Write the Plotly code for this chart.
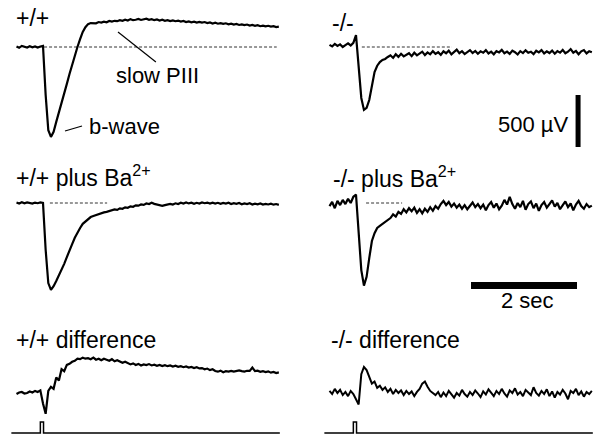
import plotly.graph_objects as go

# ---------------- data (µV, sampled every DT seconds from T0) ----------------
T0 = -0.5
DT = 0.05

wt_control = [5, -8, 10, 0, -5, 8, -3, 6, -6, 4,
              10, -460, -800, -865, -815, -720, -635, -540, -440, -355,
              -260, -165, -85, 0, 75, 145, 190, 220, 230,
              232, 228, 240, 235, 244, 238, 250, 245, 252, 248, 258,
              252, 262, 255, 268, 258, 262, 270, 260, 266, 272,
              262, 268, 258, 265, 255, 262, 252, 258, 250, 256,
              248, 254, 244, 250, 240, 246, 238, 243, 235, 242,
              234, 240, 230, 236, 226, 233, 224, 230, 222, 228,
              218, 225, 216, 222, 212, 218, 210, 216, 206, 212,
              204, 210, 200, 206, 198, 204, 196, 200, 192, 196]

ko_control = [20, 5, 30, 10, 25, 0, 18, 35, 15, 40,
              115, -220, -490, -605, -585, -510, -365, -240, -180, -145, -125, -115, -96,
              -80, -105, -70, -95, -65, -90, -75, -60, -88, -55, -80, -62, -45, -78, -52, -70,
              -40, -66, -50, -75, -42, -60,
              -35, -70, -48, -25, -60, -40, -68, -45, -30, -58, -38, -65, -42, -55, -30,
              -62, -45, -70, -40, -52, -28, -60, -44, -66, -35, -50, -72, -40, -58, -32,
              -55, -45, -68, -36, -52, -30, -62, -42, -58, -35, -65, -40, -55, -28, -60,
              -45, -20, -55, -38, -70, -42, -30, -62, -40, -50]

wt_ba = [5, -5, 8, -3, 6, 0, -6, 4, -2, 6,
         0, -450, -770, -835, -800, -750, -700, -645, -585, -520,
         -450, -395, -335, -280, -240, -200, -175, -155, -135, -125,
         -115, -105, -95, -90, -85, -78,
         -72, -62, -66, -52, -56, -42, -46, -32, -36, -22,
         -26, -14, -18, -5, -10, 2, -8, -15, -25, -28,
         -20, -14, -8, -15, -3, -10, 2, -6, 5, -4,
         3, -8, 2, -5, 6, -2, 4, -6, 3, -5,
         2, -8, 0, -6, 3, -10, -2, -8, 0, -12,
         -4, -10, -2, -14, -6, -12, -4, -15, -8, -14,
         -6, -16, -10, -18]

ko_ba = [-30, 10, -50, 20, -20, 30, -10, 40, 0, 60,
         80, -280, -645, -795, -710, -530, -365, -290, -240, -220, -200, -180, -165,
         -145, -110, -130, -85, -105, -60, -90, -50, -80, -45,
         -95, -60, -100, -55, -85, -40, -75, -30, -55, -10,
         20, -20, 10, -35, -5, -45, -15, -55, -20, -60,
         -25, 5, -40, -10, -50, -15, -70, -20, 10, -45,
         -5, -60, -25, 30, -15, 60, -10, -55, 0, -40,
         20, -65, -10, 15, -50, -5, -75, -20, 10, -45,
         -10, 25, -35, 0, -60, -20, 15, -40, -5, -70,
         -15, 20, -30, -55, -10, -40, -25]

wt_diff = [-10, 5, 10, -5, 0, 15, 5, 20, 10, 25,
           -100, -200,
           20, 60, 40, 150, 120, 230, 210, 270, 280, 300, 310, 330, 325, 340, 330, 335,
           325, 340, 320, 330, 315, 330, 320, 310, 325, 305, 315, 300,
           290, 300, 285, 275, 285, 270, 280, 265, 275, 268,
           278, 265, 272, 262, 270, 260, 268, 258, 265, 255,
           262, 252, 258, 248, 255, 245, 250, 240, 248, 236,
           240, 228, 235, 220, 228, 212, 205, 215, 200, 210,
           205, 212, 205, 212, 218, 210, 206, 214, 212, 245,
           210, 214, 204, 210, 202, 208, 196, 202, 192, 198]

ko_diff = [20, -10, 40, 0, 30, -20, 10, -30, 20, -10,
           -60, -110, 180, 250, 220, 160, 90, 110, 50, 70,
           30, 55, 10, 40, -10, 30, 0, 25, -20, 20,
           -10, 15, -30, 10, 40, 90, 110, 60, 20, 0,
           -20, 10, -40, 5, -30, 20, -15, -45, 0, -25,
           30, -10, -35, 10, -20, 25, -5, -40, 15, -15,
           35, 0, -30, 20, -10, 40, -5, -35, 25, 0,
           45, -15, 10, -30, 30, 5, -20, 55, 0, -25,
           20, -10, 35, -30, 15, -45, 10, -15, 30, -5,
           -60, 20, 0, 40, -20, 15, -35, 10, -10, 20]

# light stimulus (flash) marker
stim_t = [-0.6, -0.05, -0.05, 0.01, 0.01, 4.47]
stim_v = [0, 0, 1, 1, 0, 0]

# dashed pre-flash baselines: [start s, end s]
baseline_spans = {"wt_control": [0.02, 4.41], "ko_control": [0.11, 1.81],
                  "wt_ba": [0.13, 1.21], "ko_ba": [0.19, 0.87]}

panel_labels = ["+/+", "-/-", "+/+ plus Ba<sup>2+</sup>", "-/- plus Ba<sup>2+</sup>",
                "+/+ difference", "-/- difference"]
scale_uv = 500
scale_s = 2

# ---------------- layout geometry (pixels) ----------------
W, H = 593, 435
UV_PER_PX = 500 / 52.0
PX_PER_S = 53.0
X_RANGE = [-0.6, 4.47]
FLASH_PX = [43, 356]                  # column flash x position
ROWS = [(4, 152, 47), (150, 300, 203), (325, 425, 393)]   # top, bottom, baseline px
STIM_ROW = (405, 435, 433, 11)        # top, bottom, zero px, px per unit
FONT = dict(family="Liberation Sans, Arial, sans-serif", size=22, color="black")
TITLE_FONT = dict(family="Liberation Sans, Arial, sans-serif", size=23, color="black")

fig = go.Figure()
layout = dict(width=W, height=H, margin=dict(l=0, r=0, t=0, b=0),
              paper_bgcolor="white", plot_bgcolor="rgba(0,0,0,0)", showlegend=False)

def xdom(c):
    l = FLASH_PX[c] + X_RANGE[0] * PX_PER_S
    r = FLASH_PX[c] + X_RANGE[1] * PX_PER_S
    return [max(0, l / W), min(1, r / W)]

axes = {}
k = 0
for r, (top, bot, base) in enumerate(ROWS):
    for c in range(2):
        k += 1
        axes[(r, c)] = k
        layout["xaxis%d" % k] = dict(domain=xdom(c), range=X_RANGE, visible=False,
                                     anchor="y%d" % k, fixedrange=True)
        layout["yaxis%d" % k] = dict(domain=[1 - bot / H, 1 - top / H],
                                     range=[(base - bot) * UV_PER_PX, (base - top) * UV_PER_PX],
                                     visible=False, anchor="x%d" % k, fixedrange=True)
for c in range(2):
    k += 1
    axes[(3, c)] = k
    top, bot, zero, ppu = STIM_ROW
    layout["xaxis%d" % k] = dict(domain=xdom(c), range=X_RANGE, visible=False,
                                 anchor="y%d" % k, fixedrange=True)
    layout["yaxis%d" % k] = dict(domain=[1 - bot / H, 1 - top / H],
                                 range=[(zero - bot) / ppu, (zero - top) / ppu],
                                 visible=False, anchor="x%d" % k, fixedrange=True)

def ax(r, c):
    n = axes[(r, c)]
    return ("x%d" % n, "y%d" % n)

def add_line(xs, ys, r, c, width=1.6, dash=None, color="black"):
    xa, ya = ax(r, c)
    fig.add_trace(go.Scatter(x=xs, y=ys, mode="lines", xaxis=xa, yaxis=ya,
                             line=dict(color=color, width=width, dash=dash),
                             hoverinfo="skip"))

series = [("wt_control", wt_control, 0, 0, 2.2), ("ko_control", ko_control, 0, 1, 2.2),
          ("wt_ba", wt_ba, 1, 0, 2.2), ("ko_ba", ko_ba, 1, 1, 2.2),
          ("wt_diff", wt_diff, 2, 0, 2.2), ("ko_diff", ko_diff, 2, 1, 2.0)]

for name, vals, r, c, w in series:
    if name in baseline_spans:
        add_line(baseline_spans[name], [0, 0], r, c, width=1, dash="3px,2px", color="#333")
    ts = [round(T0 + DT * i, 3) for i in range(len(vals))]
    add_line(ts, vals, r, c, width=w)

for c in range(2):
    add_line(stim_t, stim_v, 3, c, width=1.5)

# scale bars
add_line([4.19, 4.19], [-961, -961 + scale_uv], 0, 1, width=5)
add_line([2.17, 2.17 + scale_s], [-793, -793], 1, 1, width=7)

# pointer lines for annotations
add_line([1.415, 2.13], [144, -144], 0, 0, width=1.2)
add_line([0.415, 0.736], [-808, -760], 0, 0, width=1.2)

# texts (pixel positions: left x, centre y)
texts = [(panel_labels[0], 15, 18, TITLE_FONT), (panel_labels[1], 331, 23, TITLE_FONT),
         (panel_labels[2], 15, 176, TITLE_FONT), (panel_labels[3], 332, 177, TITLE_FONT),
         (panel_labels[4], 15, 340, TITLE_FONT), (panel_labels[5], 330, 340, TITLE_FONT),
         ("slow PIII", 115, 75, FONT), ("b-wave", 88, 126, FONT),
         ("500 \u00b5V", 497, 124, FONT), ("%d sec" % scale_s, 500, 300, FONT)]
ann = []
for t, px, py, f in texts:
    ann.append(dict(text=t, x=px / W, y=1 - py / H, xref="paper", yref="paper",
                    xanchor="left", yanchor="middle", showarrow=False, font=f,
                    borderpad=0))
layout["annotations"] = ann
fig.update_layout(**layout)
fig.write_html("out.html", config={"displayModeBar": False},
               post_script="document.body.style.margin='0';document.body.style.overflow='hidden';")
